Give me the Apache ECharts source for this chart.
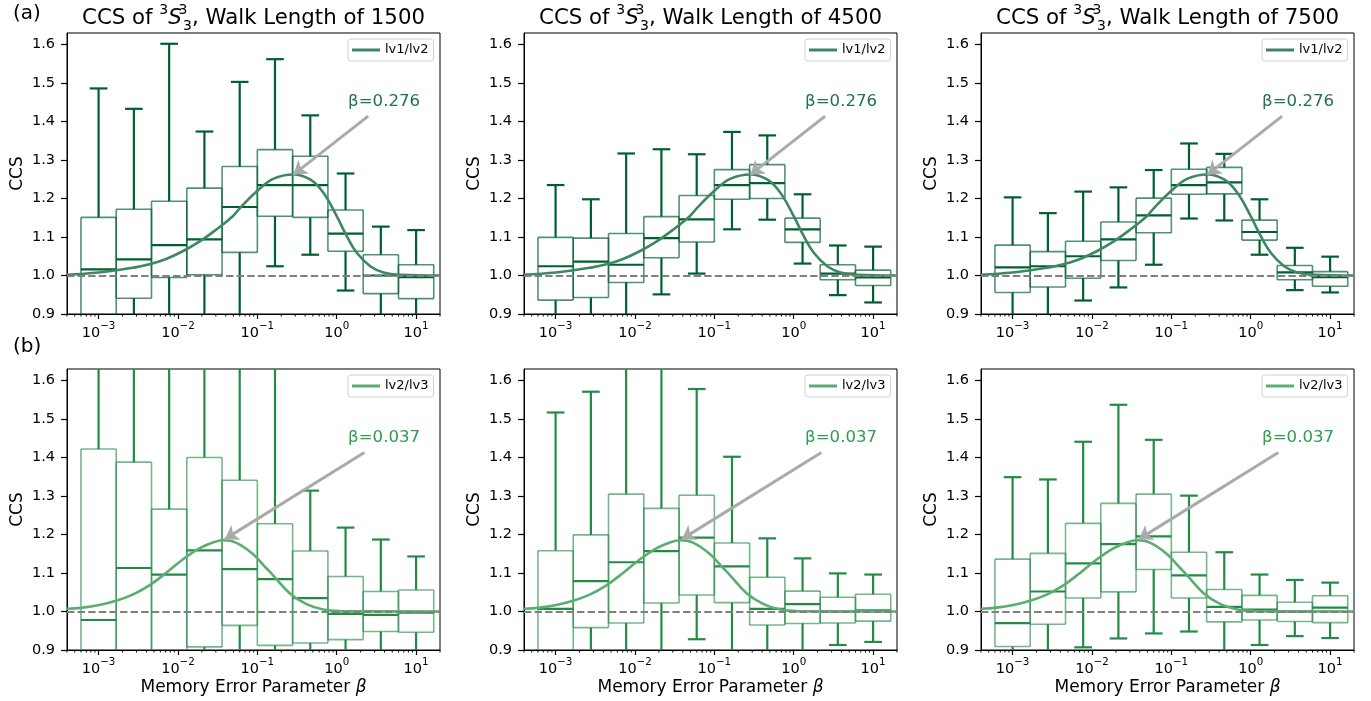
<!DOCTYPE html>
<html><head><meta charset="utf-8">
<script src="https://cdn.jsdelivr.net/npm/echarts@6/dist/echarts.min.js"></script>
<style>html,body{margin:0;padding:0;background:#fff}#c{width:1371px;height:701px}</style>
</head><body><div id="c"></div>
<script>
// ---------------- data ----------------
const betas = [0.001, 0.002783, 0.007743, 0.02154, 0.05995, 0.1668, 0.4642, 1.292, 3.594, 10];
const walkLengths = ['1500', '4500', '7500'];
const majorTicks = [0.001, 0.01, 0.1, 1, 10];
const yTicks = [0.9, 1.0, 1.1, 1.2, 1.3, 1.4, 1.5, 1.6];

// row (a): lv1/lv2
const a1500Max = [1.486, 1.433, 1.602, 1.374, 1.503, 1.562, 1.416, 1.265, 1.127, 1.118];
const a1500Q3  = [1.151, 1.172, 1.193, 1.227, 1.283, 1.327, 1.310, 1.170, 1.054, 1.028];
const a1500Med = [1.016, 1.042, 1.079, 1.094, 1.178, 1.235, 1.235, 1.109, 1.000, 0.996];
const a1500Q1  = [0.860, 0.941, 0.995, 1.002, 1.060, 1.154, 1.151, 1.063, 0.953, 0.940];
const a1500Min = [0.600, 0.750, 0.750, 0.720, 0.750, 1.024, 1.054, 0.961, 0.850, 0.870];

const a4500Max = [1.235, 1.198, 1.317, 1.328, 1.315, 1.373, 1.364, 1.211, 1.078, 1.075];
const a4500Q3  = [1.099, 1.097, 1.109, 1.153, 1.208, 1.275, 1.288, 1.149, 1.028, 1.014];
const a4500Med = [1.024, 1.036, 1.028, 1.097, 1.146, 1.235, 1.240, 1.120, 1.005, 0.995];
const a4500Q1  = [0.936, 0.943, 0.982, 1.046, 1.087, 1.198, 1.200, 1.086, 0.989, 0.974];
const a4500Min = [0.850, 0.860, 0.880, 0.951, 1.005, 1.120, 1.145, 1.031, 0.949, 0.930];

const a7500Max = [1.203, 1.162, 1.218, 1.229, 1.274, 1.343, 1.316, 1.198, 1.072, 1.049];
const a7500Q3  = [1.079, 1.062, 1.089, 1.139, 1.201, 1.276, 1.281, 1.144, 1.026, 1.010];
const a7500Med = [1.021, 1.024, 1.050, 1.094, 1.156, 1.235, 1.242, 1.113, 1.008, 0.996];
const a7500Q1  = [0.956, 0.970, 0.993, 1.039, 1.111, 1.211, 1.212, 1.092, 0.989, 0.972];
const a7500Min = [0.850, 0.870, 0.935, 0.969, 1.028, 1.148, 1.143, 1.054, 0.962, 0.956];

// row (b): lv2/lv3
const b1500Max = [1.800, 1.850, 1.750, 1.900, 1.800, 1.700, 1.314, 1.218, 1.187, 1.143];
const b1500Q3  = [1.422, 1.388, 1.266, 1.400, 1.341, 1.228, 1.157, 1.091, 1.052, 1.056];
const b1500Med = [0.978, 1.113, 1.096, 1.159, 1.110, 1.084, 1.035, 0.994, 0.991, 0.997];
const b1500Q1  = [0.700, 0.750, 0.800, 0.908, 0.964, 0.912, 0.918, 0.927, 0.948, 0.946];
const b1500Min = [0.500, 0.550, 0.600, 0.600, 0.700, 0.650, 0.750, 0.800, 0.830, 0.850];

const b4500Max = [1.517, 1.571, 1.750, 1.800, 1.578, 1.402, 1.190, 1.138, 1.099, 1.096];
const b4500Q3  = [1.158, 1.199, 1.305, 1.268, 1.302, 1.178, 1.089, 1.053, 1.037, 1.045];
const b4500Med = [1.007, 1.079, 1.128, 1.157, 1.192, 1.117, 1.007, 1.019, 1.000, 1.003];
const b4500Q1  = [0.800, 0.958, 0.970, 1.022, 1.043, 1.023, 0.965, 0.969, 0.970, 0.975];
const b4500Min = [0.600, 0.800, 0.800, 0.750, 0.928, 0.820, 0.850, 0.850, 0.913, 0.921];

const b7500Max = [1.349, 1.343, 1.441, 1.537, 1.446, 1.301, 1.154, 1.096, 1.082, 1.075];
const b7500Q3  = [1.136, 1.151, 1.229, 1.281, 1.305, 1.154, 1.057, 1.042, 1.024, 1.041];
const b7500Med = [0.970, 1.052, 1.125, 1.175, 1.195, 1.094, 1.012, 1.005, 1.000, 1.010];
const b7500Q1  = [0.909, 0.967, 1.035, 1.051, 1.109, 1.035, 0.973, 0.978, 0.974, 0.971];
const b7500Min = [0.800, 0.850, 0.907, 0.930, 0.943, 0.948, 0.850, 0.913, 0.936, 0.931];

// fitted curves
const curveABeta = [0.0004, 0.001, 0.00166, 0.00269, 0.00437, 0.00708, 0.01148, 0.0186, 0.0302, 0.049, 0.0603, 0.0977, 0.158, 0.284, 0.462, 0.679, 1.0, 1.34, 1.79, 2.64, 3.88, 6.31, 20];
const curveACcs  = [1.002, 1.008, 1.0135, 1.020, 1.029, 1.043, 1.063, 1.088, 1.119, 1.154, 1.175, 1.218, 1.251, 1.2625, 1.2495, 1.215, 1.154, 1.102, 1.059, 1.024, 1.008, 1.002, 1.000];
const curveBBeta = [0.0004, 0.00063, 0.00102, 0.00166, 0.00269, 0.00437, 0.00708, 0.01148, 0.0186, 0.0275, 0.0372, 0.0537, 0.0871, 0.129, 0.158, 0.257, 0.417, 0.676, 1.10, 20];
const curveBCcs  = [1.007, 1.010, 1.017, 1.028, 1.044, 1.068, 1.100, 1.135, 1.164, 1.1795, 1.185, 1.179, 1.150, 1.113, 1.094, 1.047, 1.019, 1.005, 1.001, 1.000];

// annotations (data coordinates)
const annA = {text: 'β=0.276', from: [2.49, 1.414], to: [0.285, 1.262], at: [3.95, 1.451]};
const annB = {text: 'β=0.037', from: [2.23, 1.413], to: [0.039, 1.188], at: [3.95, 1.451]};

// ---------------- chart ----------------
const F = "'DejaVu Sans', sans-serif";
const minorTicks = [];
for (let k = -4; k <= 1; k++) for (let m = 2; m <= 9; m++) {
  const v = m * Math.pow(10, k);
  if (v >= 0.0004 * 0.999 && v <= 20 * 1.001) minorTicks.push(v);
}

const rows = [
  {name: 'lv1/lv2', whisker: '#005f30', edge: 'rgba(0,95,48,0.68)', curve: '#3e8762', label: '#22744a',
   cb: curveABeta, cc: curveACcs, ann: annA,
   sets: [[a1500Max, a1500Q3, a1500Med, a1500Q1, a1500Min], [a4500Max, a4500Q3, a4500Med, a4500Q1, a4500Min], [a7500Max, a7500Q3, a7500Med, a7500Q1, a7500Min]]},
  {name: 'lv2/lv3', whisker: '#238b45', edge: 'rgba(35,139,69,0.62)', curve: '#5aae70', label: '#2e9e50',
   cb: curveBBeta, cc: curveBCcs, ann: annB,
   sets: [[b1500Max, b1500Q3, b1500Med, b1500Q1, b1500Min], [b4500Max, b4500Q3, b4500Med, b4500Q1, b4500Min], [b7500Max, b7500Q3, b7500Med, b7500Q1, b7500Min]]}
];

const GL = [67, 524, 981], GT = [33, 369], GW = 373, GH = 281;
const BOX_HALF = Math.pow(10, 2 / 9), CAP_HALF = Math.pow(10, 1 / 9);

function boxRender(stroke, edge) {
  return function (params, api) {
    const cs = params.coordSys;
    const top = cs.y, bot = cs.y + cs.height;
    const cy = y => Math.min(bot, Math.max(top, y));
    const inside = y => y >= top - 0.01 && y <= bot + 0.01;
    const x = api.value(0);
    const X = v => api.coord([v, 1])[0];
    const Y = v => api.coord([x, v])[1];
    const xl = X(x / BOX_HALF), xr = X(x * BOX_HALF), cl = X(x / CAP_HALF), cr = X(x * CAP_HALF), xc = X(x);
    const yMin = Y(api.value(1)), yQ1 = Y(api.value(2)), yMed = Y(api.value(3)), yQ3 = Y(api.value(4)), yMax = Y(api.value(5));
    const ch = [];
    const L = (x1, y1, x2, y2, c, w) => ch.push({type: 'line', shape: {x1, y1, x2, y2}, style: {stroke: c, lineWidth: w}});
    const bt = cy(yQ3), bb = cy(yQ1);
    L(xl, bt, xl, bb, edge, 1.6); L(xr, bt, xr, bb, edge, 1.6);
    if (inside(yQ3)) L(xl, yQ3, xr, yQ3, edge, 1.6);
    if (inside(yQ1)) L(xl, yQ1, xr, yQ1, edge, 1.6);
    L(xc, cy(yQ3), xc, cy(yMax), stroke, 2.2);
    if (inside(yMax)) L(cl, yMax, cr, yMax, stroke, 2.2);
    L(xc, cy(yQ1), xc, cy(yMin), stroke, 2.2);
    if (inside(yMin)) L(cl, yMin, cr, yMin, stroke, 2.2);
    if (inside(yMed)) L(xl, yMed, xr, yMed, stroke, 2.2);
    return {type: 'group', children: ch};
  };
}

function minorRender(params, api) {
  const cs = params.coordSys;
  const x = api.coord([api.value(0), 1])[0];
  const b = cs.y + cs.height;
  return {type: 'line', shape: {x1: x, y1: b, x2: x, y2: b + 2.5}, style: {stroke: '#000', lineWidth: 1}};
}

const grid = [], xAxis = [], yAxis = [], series = [], legend = [], graphic = [];
let idx = 0;
rows.forEach((rs, r) => {
  rs.sets.forEach((set, c) => {
    const i = idx++;
    const left = GL[c], top = GT[r];
    grid.push({left, top, width: GW, height: GH, show: true, borderColor: '#000', borderWidth: 1});
    xAxis.push({
      type: 'log', logBase: 10, gridIndex: i, min: 0.0004, max: 20,
      axisLine: {show: true, lineStyle: {color: '#000', width: 1}},
      axisTick: {show: true, length: 5, lineStyle: {color: '#000', width: 1.2}, customValues: majorTicks},
      splitLine: {show: false}, minorTick: {show: false},
      axisLabel: {
        showMinLabel: false, showMaxLabel: false, margin: 7,
        formatter: v => { const e = Math.round(Math.log10(v)); return '{b|10}{s|' + (e < 0 ? '\u2212' + (-e) : String(e)) + '}'; },
        rich: {
          b: {fontSize: 14.5, fontFamily: F, color: '#000', lineHeight: 20, verticalAlign: 'bottom'},
          s: {fontSize: 10.3, fontFamily: F, color: '#000', lineHeight: 12, verticalAlign: 'top'}
        }
      },
      name: r === 1 ? '{n|Memory Error Parameter }{i|β}' : '',
      nameLocation: 'middle', nameGap: 28,
      nameTextStyle: {lineHeight: 20, rich: {
        n: {fontSize: 17, fontFamily: F, color: '#000', lineHeight: 20},
        i: {fontSize: 17, fontFamily: F, fontStyle: 'italic', color: '#000', lineHeight: 20}
      }}
    });
    yAxis.push({
      type: 'value', gridIndex: i, min: 0.9, max: 1.63, interval: 0.1,
      axisLine: {show: true, lineStyle: {color: '#000', width: 1}},
      axisTick: {show: true, length: 6, lineStyle: {color: '#000', width: 1.2}, customValues: yTicks},
      axisLabel: {customValues: yTicks, formatter: v => v.toFixed(1), margin: 12, fontSize: 14.5, fontFamily: F, color: '#000'},
      splitLine: {show: false},
      name: 'CCS', nameLocation: 'middle', nameGap: 39,
      nameTextStyle: {fontSize: 17, fontFamily: F, color: '#000', lineHeight: 20}
    });
    series.push({
      type: 'custom', name: 'minor', xAxisIndex: i, yAxisIndex: i, silent: true, z: 1,
      data: minorTicks.map(v => [v, 1]), encode: {x: 0, y: 1}, renderItem: minorRender
    });
    series.push({
      type: 'custom', name: 'box', xAxisIndex: i, yAxisIndex: i, silent: true, z: 2,
      encode: {x: 0, y: [1, 2, 3, 4, 5]},
      data: betas.map((b, k) => [b, set[4][k], set[3][k], set[2][k], set[1][k], set[0][k]]),
      renderItem: boxRender(rs.whisker, rs.edge)
    });
    series.push({
      type: 'line', name: rs.name, xAxisIndex: i, yAxisIndex: i, z: 3,
      data: rs.cb.map((b, k) => [b, rs.cc[k]]),
      smooth: 0.4, showSymbol: false, symbol: 'none', silent: true,
      color: rs.curve, itemStyle: {color: rs.curve},
      lineStyle: {color: rs.curve, width: 2.6},
      markLine: {
        silent: true, animation: false, label: {show: false}, symbol: ['none', 'none'],
        data: [
          {yAxis: 1, lineStyle: {type: [7.4, 3.2], color: '#808080', width: 2}},
          [{coord: rs.ann.from, symbol: 'none', lineStyle: {color: '#aaaaaa', width: 3, type: 'solid'}},
           {coord: rs.ann.to, symbol: 'arrow', symbolSize: 13, lineStyle: {color: '#aaaaaa', width: 3, type: 'solid'}}]
        ]
      },
      markPoint: {
        silent: true, animation: false, symbol: 'rect', symbolSize: 1, itemStyle: {color: 'rgba(0,0,0,0)'},
        label: {show: true, position: 'inside', formatter: rs.ann.text, color: rs.label, fontSize: 16.6, fontFamily: F},
        data: [{coord: rs.ann.at}]
      }
    });
    legend.push({
      data: [rs.name], left: left + 281, top: top + 6, icon: 'rect', itemWidth: 28, itemHeight: 3,
      padding: [4, 5, 4, 4], borderColor: '#d0d0d0', borderWidth: 1, borderRadius: 3, backgroundColor: '#fff',
      selectedMode: false, textStyle: {fontSize: 13, fontFamily: F, color: '#000', lineHeight: 14}
    });
    if (r === 0) {
      graphic.push({
        type: 'text', x: left + GW / 2, y: 18, silent: true,
        style: {
          text: '{r|CCS of }{p|3}{i|S}{t| }{q|3}{d|3}{r|, Walk Length of ' + walkLengths[c] + '}',
          align: 'center', verticalAlign: 'middle', textAlign: 'center', textVerticalAlign: 'middle',
          rich: {
            r: {fontSize: 21.3, fontFamily: F, fill: '#000', lineHeight: 30},
            i: {fontSize: 21.3, fontFamily: F, fontStyle: 'italic', fill: '#000', lineHeight: 30},
            t: {fontSize: 4, fontFamily: F, fill: '#000', lineHeight: 4},
            p: {fontSize: 14, fontFamily: F, fill: '#000', lineHeight: 17, verticalAlign: 'top'},
            q: {fontSize: 14, fontFamily: F, fill: '#000', lineHeight: 17, verticalAlign: 'top', width: 0},
            d: {fontSize: 14, fontFamily: F, fill: '#000', lineHeight: 14, verticalAlign: 'bottom'}
          }
        }
      });
    }
  });
});
graphic.push({type: 'text', x: 13, y: 14, silent: true, style: {text: '(a)', fontSize: 20, fontFamily: F, fill: '#000', align: 'left', verticalAlign: 'middle', textAlign: 'left', textVerticalAlign: 'middle'}});
graphic.push({type: 'text', x: 13, y: 347, silent: true, style: {text: '(b)', fontSize: 20, fontFamily: F, fill: '#000', align: 'left', verticalAlign: 'middle', textAlign: 'left', textVerticalAlign: 'middle'}});

const chart = echarts.init(document.getElementById('c'), null, {renderer: 'canvas', width: 1371, height: 701});
chart.setOption({
  animation: false, backgroundColor: '#fff', textStyle: {fontFamily: F},
  grid, xAxis, yAxis, series, legend, graphic
});
</script></body></html>
